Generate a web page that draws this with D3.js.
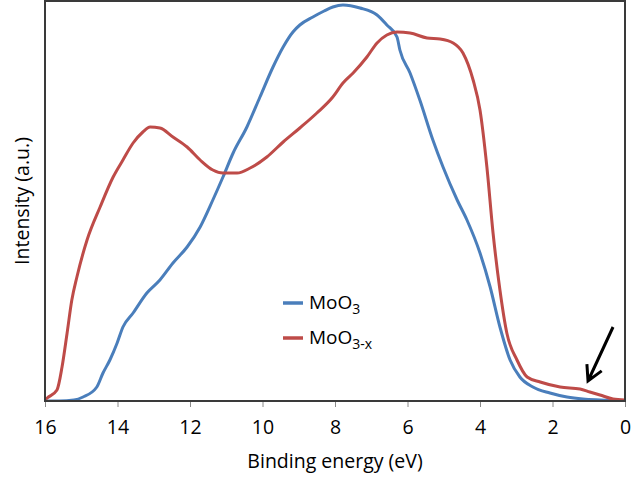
<!DOCTYPE html>
<html lang="en">
<head>
<meta charset="utf-8">
<title>Valence band spectra</title>
<script src="https://d3js.org/d3.v7.min.js"></script>
<style>
  body { margin: 0; background: #fff; }
  text { font-family: "Open Sans", sans-serif; fill: #000; }
</style>
</head>
<body>
<script>

// binding energy (eV) and intensity (a.u.)
var mo3Energy = [16, 15.6, 15.2, 14.95, 14.57, 14.40, 14.21, 14.01, 13.85, 13.57, 13.19, 12.83, 12.47, 12.08, 11.72, 11.37, 11.09, 10.81, 10.43, 10.07, 9.71, 9.43, 9.16, 8.97, 8.61, 8.30, 8.06, 7.78, 7.31, 6.84, 6.57, 6.29, 6.21, 5.93, 5.66, 5.30, 5.02, 4.63, 4.36, 4.00, 3.72, 3.45, 3.17, 2.90, 2.54, 2.07, 1.60, 1.16, 0.69, 0];
var mo3Int    = [0, 0, 0.25, 1, 3.5, 7, 10.25, 14.5, 18.5, 22, 27, 30.25, 34.5, 38.5, 43.5, 50.25, 56, 62, 68.5, 76, 83.5, 88.5, 92.25, 94, 96, 97.5, 98.5, 99, 98.25, 96.5, 94, 91, 87.75, 82, 75.25, 65.25, 58.5, 50.25, 45.25, 37, 28.5, 18.5, 10.25, 6, 3.5, 2, 1, 0.5, 0.25, 0];

var mo3xEnergy = [16, 15.94, 15.67, 15.53, 15.39, 15.26, 15.12, 14.84, 14.48, 14.12, 13.85, 13.57, 13.30, 13.10, 12.83, 12.47, 12.08, 11.72, 11.37, 11.09, 10.70, 10.34, 9.88, 9.43, 8.97, 8.50, 8.06, 7.78, 7.50, 7.12, 6.84, 6.57, 6.29, 5.93, 5.46, 5.10, 4.74, 4.47, 4.19, 4.00, 3.81, 3.64, 3.45, 3.26, 2.98, 2.70, 2.34, 1.79, 1.24, 0.97, 0.69, 0.33, 0];
var mo3xInt    = [0.25, 0.75, 2.75, 8.5, 17, 25.25, 31, 40.25, 48.5, 56, 60.25, 64.5, 67.25, 68.5, 68.25, 66, 63.5, 60.25, 57.75, 57, 57, 58.25, 61, 64.75, 68.25, 72, 76, 79.5, 82, 86, 89.5, 91.5, 92.25, 92, 90.75, 90.5, 89.5, 87, 80.25, 72.75, 58.5, 42, 27.75, 17, 10.25, 6, 4.75, 3.5, 3, 2.25, 1.5, 0.5, 0.25];

var xTicks = [16, 14, 12, 10, 8, 6, 4, 2, 0];
var seriesNames = ["MoO3", "MoO3-x"];
var seriesColors = ["#4a7ebb", "#be4b48"];
// arrow pointing at the gap state: [energy, intensity] start and tip
var arrowStart = [0.33, 18.5], arrowTip = [1.02, 5.0];

var width = 631, height = 477;
var margin = {top: 1, right: 6, bottom: 76, left: 45};

var svg = d3.select("body").append("svg")
    .attr("width", width)
    .attr("height", height);

var x = d3.scaleLinear()
    .domain([16, 0])
    .range([margin.left, width - margin.right]);

var y = d3.scaleLinear()
    .domain([0, 100])
    .range([height - margin.bottom, margin.top]);

// x axis ticks
var xAxis = svg.append("g")
    .attr("transform", "translate(0," + y(0) + ")")
    .call(d3.axisBottom(x).tickValues(xTicks).tickSize(6).tickPadding(13).tickFormat(d3.format("d")));
xAxis.select(".domain").remove();
xAxis.selectAll(".tick line").attr("stroke", "#8a8a8a").attr("stroke-width", 1);
xAxis.selectAll(".tick text").style("font-size", "19.5px").attr("fill", "#000");

var line = d3.line()
    .x(function(d) { return x(d[0]); })
    .y(function(d) { return y(d[1]); })
    .curve(d3.curveMonotoneX);

var series = [
  d3.zip(mo3Energy, mo3Int).reverse(),
  d3.zip(mo3xEnergy, mo3xInt).reverse()
];

svg.append("defs").append("clipPath").attr("id", "clip")
  .append("rect")
    .attr("x", x(16)).attr("y", y(100) - 2)
    .attr("width", x(0) - x(16)).attr("height", y(0) - y(100) + 2);

svg.append("g").attr("clip-path", "url(#clip)")
  .selectAll("path")
  .data(series)
  .enter().append("path")
    .attr("d", line)
    .attr("fill", "none")
    .attr("stroke", function(d, i) { return seriesColors[i]; })
    .attr("stroke-width", 3)
    .attr("stroke-linejoin", "round");

// plot border
svg.append("rect")
    .attr("x", x(16)).attr("y", y(100))
    .attr("width", x(0) - x(16)).attr("height", y(0) - y(100))
    .attr("fill", "none")
    .attr("stroke", "#3a3a3a")
    .attr("stroke-width", 2);

// arrow
var ax0 = x(arrowStart[0]), ay0 = y(arrowStart[1]);
var ax1 = x(arrowTip[0]), ay1 = y(arrowTip[1]);
var ang = Math.atan2(ay1 - ay0, ax1 - ax0);
var headLen = 17, spread = 0.5;
svg.append("path")
    .attr("d", "M" + ax0 + "," + ay0 + "L" + ax1 + "," + ay1 +
      "M" + (ax1 - headLen * Math.cos(ang - spread)) + "," + (ay1 - headLen * Math.sin(ang - spread)) +
      "L" + ax1 + "," + ay1 +
      "L" + (ax1 - headLen * Math.cos(ang + spread)) + "," + (ay1 - headLen * Math.sin(ang + spread)))
    .attr("fill", "none")
    .attr("stroke", "#000")
    .attr("stroke-width", 3);

// legend
var legend = svg.append("g").attr("transform", "translate(283,303)");
var item = legend.selectAll("g")
    .data(seriesNames)
  .enter().append("g")
    .attr("transform", function(d, i) { return "translate(0," + (i * 35) + ")"; });
item.append("line")
    .attr("x1", 0).attr("x2", 20)
    .attr("stroke", function(d, i) { return seriesColors[i]; })
    .attr("stroke-width", 3.5);
var lbl = item.append("text")
    .attr("x", 26).attr("y", 6)
    .style("font-size", "19px");
lbl.append("tspan").text("MoO");
lbl.append("tspan")
    .attr("dy", 5)
    .style("font-size", "14px")
    .text(function(d) { return d.slice(3); });

// axis titles
svg.append("text")
    .attr("x", (x(16) + x(0)) / 2)
    .attr("y", 468)
    .attr("text-anchor", "middle")
    .style("font-size", "19.5px")
    .text("Binding energy (eV)");

svg.append("text")
    .attr("transform", "translate(29," + y(50) + ") rotate(-90)")
    .attr("text-anchor", "middle")
    .style("font-size", "19.5px")
    .text("Intensity (a.u.)");

</script>
</body>
</html>
